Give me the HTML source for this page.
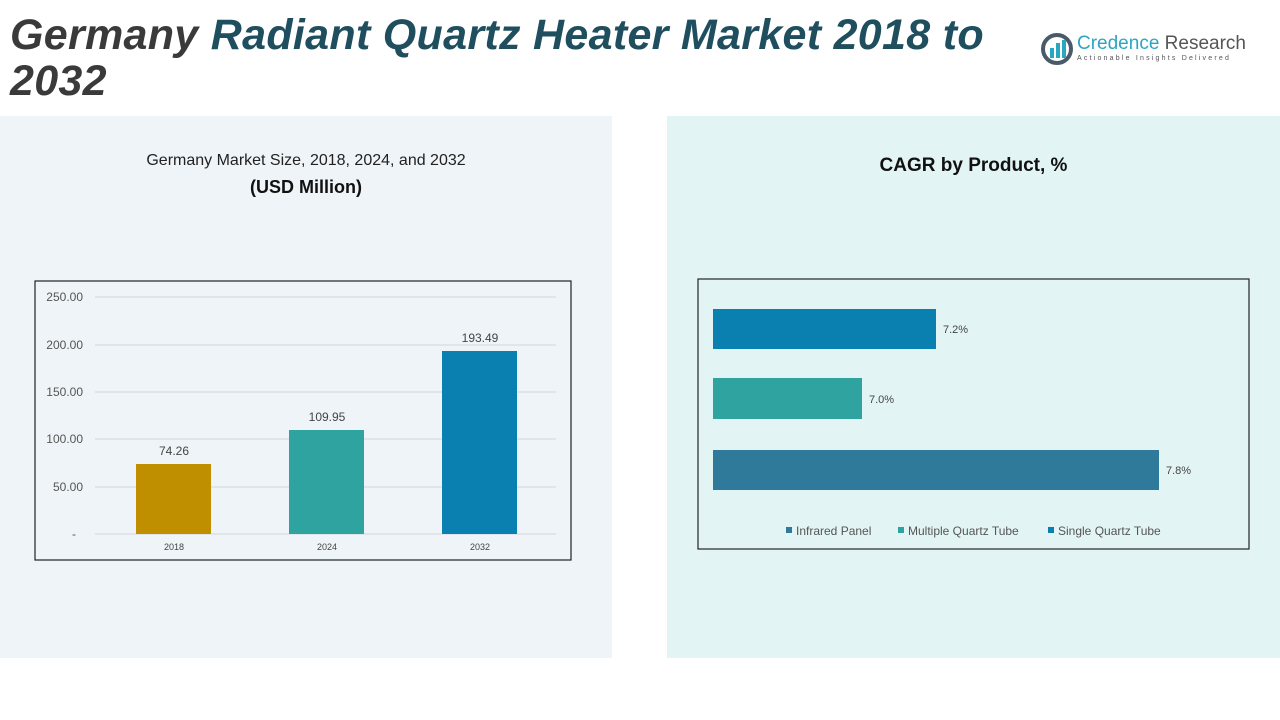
<!DOCTYPE html>
<html><head><style>
body{margin:0;width:1280px;height:720px;background:#fff;position:relative;overflow:hidden;font-family:"Liberation Sans",sans-serif}
.a{position:absolute}
</style></head><body>
<div class="a" style="left:0;top:116px;width:612px;height:542px;background:#eef4f8"></div>
<div class="a" style="left:667px;top:116px;width:613px;height:542px;background:#e3f4f4"></div>
<div class="a" style="left:10px;top:12px;font-size:43px;font-weight:bold;font-style:italic;color:#3a3a3a;line-height:46px;width:1020px;letter-spacing:0.3px">Germany <span style="color:#1f4e5f">Radiant Quartz Heater Market 2018 to</span><br>2032</div>
<svg class="a" style="left:1040px;top:32px" width="34" height="34"><circle cx="17" cy="17" r="14" fill="none" stroke="#4a5a6a" stroke-width="4"/><rect x="10" y="16" width="4" height="10" fill="#2aa7c0"/><rect x="16" y="11" width="4" height="15" fill="#2aa7c0"/><rect x="22" y="8" width="4" height="18" fill="#2aa7c0"/></svg>
<div class="a" style="left:1077px;top:33px;font-size:19px;color:#2aa7c0">Credence <span style="color:#555">Research</span></div>
<div class="a" style="left:1077px;top:55px;font-size:7px;letter-spacing:2.2px;color:#555">Actionable Insights Delivered</div>
<div class="a" style="left:0;top:152px;width:612px;text-align:center;font-size:16px;color:#222">Germany Market Size, 2018, 2024, and 2032</div>
<div class="a" style="left:0;top:177px;width:612px;text-align:center;font-size:18px;font-weight:bold;color:#111">(USD Million)</div>
<div class="a" style="left:667px;top:155px;width:613px;text-align:center;font-size:19px;font-weight:bold;color:#111">CAGR by Product, %</div>
<svg class="a" style="left:0;top:0" width="1280" height="720" font-family="Liberation Sans, sans-serif">
<rect x="35" y="281" width="536" height="279" fill="none" stroke="#222" stroke-width="1.2"/>
<g stroke="#d0d6da" stroke-width="1">
<line x1="95" y1="297" x2="556" y2="297"/><line x1="95" y1="345" x2="556" y2="345"/><line x1="95" y1="392" x2="556" y2="392"/><line x1="95" y1="439" x2="556" y2="439"/><line x1="95" y1="487" x2="556" y2="487"/><line x1="95" y1="534" x2="556" y2="534"/></g>
<g font-size="12" fill="#555" text-anchor="end">
<text x="83" y="301">250.00</text><text x="83" y="349">200.00</text><text x="83" y="396">150.00</text><text x="83" y="443">100.00</text><text x="83" y="491">50.00</text><text x="76" y="538">-</text></g>
<rect x="136" y="464" width="75" height="70" fill="#bf8f00"/>
<rect x="289" y="430" width="75" height="104" fill="#2fa3a0"/>
<rect x="442" y="351" width="75" height="183" fill="#0a80b0"/>
<g font-size="12" fill="#444" text-anchor="middle">
<text x="174" y="455">74.26</text><text x="327" y="421">109.95</text><text x="480" y="342">193.49</text></g>
<g font-size="9" fill="#444" text-anchor="middle"><text x="174" y="550">2018</text><text x="327" y="550">2024</text><text x="480" y="550">2032</text></g>
<rect x="698" y="279" width="551" height="270" fill="none" stroke="#222" stroke-width="1.2"/>
<rect x="713" y="309" width="223" height="40" fill="#0a80b0"/>
<rect x="713" y="378" width="149" height="41" fill="#2fa3a0"/>
<rect x="713" y="450" width="446" height="40" fill="#2f7a9a"/>
<g font-size="11" fill="#444"><text x="943" y="333">7.2%</text><text x="869" y="403">7.0%</text><text x="1166" y="474">7.8%</text></g>
<g font-size="12" fill="#555">
<rect x="786" y="527" width="6" height="6" fill="#2f7a9a"/><text x="796" y="535">Infrared Panel</text>
<rect x="898" y="527" width="6" height="6" fill="#2fa3a0"/><text x="908" y="535">Multiple Quartz Tube</text>
<rect x="1048" y="527" width="6" height="6" fill="#0a80b0"/><text x="1058" y="535">Single Quartz Tube</text></g>
</svg>
</body></html>
